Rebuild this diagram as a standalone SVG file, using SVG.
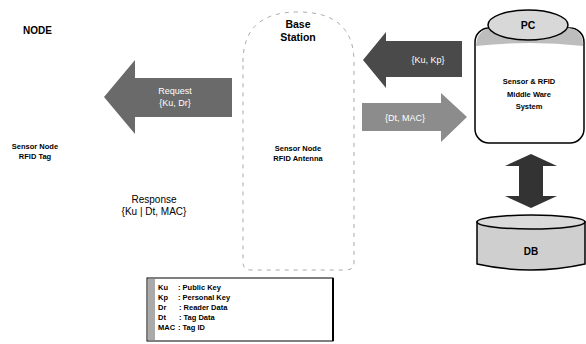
<svg xmlns="http://www.w3.org/2000/svg" width="586" height="344" viewBox="0 0 586 344">
<style>
text{font-family:"Liberation Sans",Arial,sans-serif;fill:#000}
.b{font-weight:bold}
.w{fill:#fff}
.s8{font-size:9px}
.s7{font-size:7.5px;font-weight:bold}
.dash{fill:none;stroke:#aaa;stroke-width:1;stroke-dasharray:4 5}
.out{stroke:#000;stroke-width:1.5}
</style>
<rect width="586" height="344" fill="#fff"/>
<g id="connectors">
<path id="req" d="M104,97 L135,60 L135,78 L232,78 L232,117 L135,117 L135,134 Z" fill="#6a6a6a"/>
<path id="kukp" d="M363,60 L386,32 L386,41 L462,41 L462,77 L386,77 L386,88 Z" fill="#4a4a4a"/>
<path id="dtmac" d="M362,103 L441,103 L441,93 L467,117 L441,142 L441,131 L362,131 Z" fill="#8c8c8c"/>
<path id="pcdb" d="M531,154 L557,166 L543,166 L543,196 L557,196 L531,208 L505,196 L519,196 L519,166 L505,166 Z" fill="#333"/>
</g>
<g id="node">
<text x="23" y="34" class="b" font-size="10">NODE</text>
<text x="35" y="149" class="s7" text-anchor="middle">Sensor Node</text>
<text x="35" y="159" class="s7" text-anchor="middle">RFID Tag</text>
</g>
<g id="base-station">
<path class="dash" d="M243,62 Q243,12 298,12 Q354,12 354,62 L354,262 Q354,270 346,270 L251,270 Q243,270 243,262 Z"/>
<text x="298" y="28" class="b" font-size="10.5" text-anchor="middle">Base</text>
<text x="298" y="41" class="b" font-size="10.5" text-anchor="middle">Station</text>
<text x="298" y="151" class="s7" text-anchor="middle">Sensor Node</text>
<text x="298" y="161" class="s7" text-anchor="middle">RFID Antenna</text>
</g>
<g id="pc">
<rect x="475" y="28" width="109" height="115" rx="14" fill="#fff" class="out"/>
<path d="M476,46 Q477,29 492,28 L568,28 Q583,29 583,46 Q530,40 476,46 Z" fill="#bdbdbd"/>
<ellipse cx="528" cy="25" rx="40" ry="15" fill="#d8d8d8" class="out"/>
<text x="528" y="29" class="b" font-size="10.5" text-anchor="middle">PC</text>
<text x="529" y="84" class="s7" text-anchor="middle">Sensor &amp; RFID</text>
<text x="529" y="97" class="s7" text-anchor="middle">Middle Ware</text>
<text x="529" y="109" class="s7" text-anchor="middle">System</text>
</g>
<g id="db">
<path d="M477,222 L477,264 Q531,276 585,264 L585,222 Z" fill="#cfcfcf" class="out"/>
<ellipse cx="531" cy="222" rx="54" ry="7" fill="#dadada" class="out"/>
<text x="531" y="255" class="b" font-size="10" text-anchor="middle">DB</text>
</g>
<g id="labels">
<text x="175" y="94" class="w s8" text-anchor="middle">Request</text>
<text x="175" y="106" class="w s8" text-anchor="middle">{Ku, Dr}</text>
<text x="428" y="63" class="w s8" text-anchor="middle">{Ku, Kp}</text>
<text x="405" y="121" class="w s8" text-anchor="middle">{Dt, MAC}</text>
<text x="154" y="203" font-size="10" text-anchor="middle">Response</text>
<text x="154" y="215" font-size="10" text-anchor="middle">{Ku | Dt, MAC}</text>
</g>
<g id="legend">
<rect x="147" y="278" width="186" height="63" fill="#fff" stroke="#000" stroke-width="1"/>
<rect x="148" y="279" width="7" height="61" fill="#aaa"/>
<line x1="333" y1="278" x2="333" y2="341" stroke="#000" stroke-width="2"/>
<g class="s7">
<text x="158" y="290">Ku</text><text x="178" y="290">: Public Key</text>
<text x="158" y="300">Kp</text><text x="178" y="300">: Personal Key</text>
<text x="158" y="310">Dr</text><text x="179" y="310">: Reader Data</text>
<text x="158" y="320">Dt</text><text x="179" y="320">: Tag Data</text>
<text x="158" y="330">MAC</text><text x="178" y="330">: Tag ID</text>
</g>
</g>
</svg>
